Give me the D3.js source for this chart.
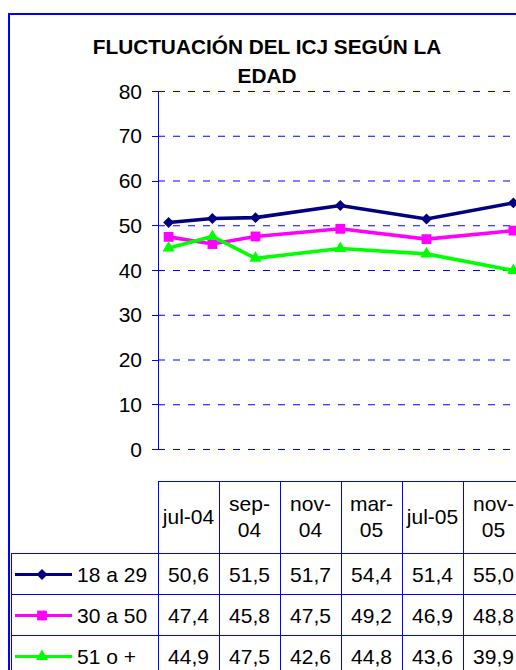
<!DOCTYPE html>
<head>
    <meta charset="utf-8">
</head>

<style type="text/css">

    body {
        margin: 0;
        background: #fff;
    }

    svg {
        display: block;
        font-family: "Liberation Sans", Arial, sans-serif;
    }

    .grid line {
        stroke: #0000ff;
        stroke-width: 1;
        stroke-dasharray: 7 8;
    }

    .axis-line, .tbl-line {
        stroke: #0000ff;
        stroke-width: 1;
        shape-rendering: crispEdges;
    }

    .frame {
        fill: none;
        stroke: #0000ff;
        stroke-width: 2;
    }

    .series-line {
        fill: none;
        stroke-width: 3.6;
    }

    .title {
        font-weight: bold;
        font-size: 20.8px;
    }

    .lbl {
        font-size: 21px;
        fill: #000;
    }

</style>

<body>
    <div class="g-chart-container"></div>
</body>

<script src="https://d3js.org/d3.v7.min.js"></script>

<script>

// values
var months = ["2004-07", "2004-09", "2004-11", "2005-03", "2005-07", "2005-11"];
var monthLabels = ["jul-04", "sep-04", "nov-04", "mar-05", "jul-05", "nov-05"];
var seriesNames = ["18 a 29", "30 a 50", "51 o +"];
var age18to29 = [50.6, 51.5, 51.7, 54.4, 51.4, 55.0];
var age30to50 = [47.4, 45.8, 47.5, 49.2, 46.9, 48.8];
var age51plus = [44.9, 47.5, 42.6, 44.8, 43.6, 39.9];
var yTicks = [0, 10, 20, 30, 40, 50, 60, 70, 80];
var titleLines = ["FLUCTUACIÓN DEL ICJ SEGÚN LA", "EDAD"];

var colors = ["#000080", "#ff00ff", "#00ff00"];
var symbols = ["diamond", "square", "triangle"];

var W = 516, H = 670;
var plotLeft = 158, plotRight = 524, plotTop = 91, plotBottom = 449;
var tableTop = 481, headerBottom = 553, rowH = 41, tableLeft = 11;

var parseMonth = d3.timeParse("%Y-%m");
var dates = months.map(parseMonth);

var allSeries = [age18to29, age30to50, age51plus].map(function(vals, i) {
    return {
        name: seriesNames[i],
        color: colors[i],
        symbol: symbols[i],
        values: vals.map(function(v, j) { return {date: dates[j], val: v}; })
    };
});

var svg = d3.select(".g-chart-container").append("svg")
    .attr("width", W)
    .attr("height", H);

svg.append("rect")
    .attr("width", W).attr("height", H)
    .attr("fill", "#fff");

// date axis, half a month of padding either side like Excel
var xscale = d3.scaleTime()
    .domain([new Date(2004, 5, 16), new Date(2005, 10, 16)])
    .range([plotLeft, plotRight]);

var yscale = d3.scaleLinear()
    .domain([0, 80])
    .range([plotBottom, plotTop]);

var colScale = d3.scaleBand()
    .domain(monthLabels)
    .range([plotLeft, plotRight]);

var fmt = d3.formatLocale({decimal: ",", thousands: ".", grouping: [3], currency: ["", "€"]}).format(".1f");

// title
svg.append("g").selectAll(".title")
    .data(titleLines)
    .enter()
    .append("text")
    .attr("class", "title")
    .attr("x", 267)
    .attr("y", function(d, i) { return 54 + i * 29; })
    .attr("text-anchor", "middle")
    .text(function(d) { return d; });

// dashed gridlines + outside ticks
var yAxis = d3.axisLeft(yscale)
    .tickValues(yTicks)
    .tickSize(-(plotRight - plotLeft))
    .tickFormat("");

var grid = svg.append("g")
    .attr("class", "grid")
    .attr("transform", "translate(" + plotLeft + ",0)")
    .call(yAxis);
grid.select(".domain").remove();

svg.append("g").selectAll(".ytick-mark")
    .data(yTicks)
    .enter()
    .append("line")
    .attr("class", "axis-line")
    .attr("x1", plotLeft - 6)
    .attr("x2", plotLeft)
    .attr("y1", function(d) { return Math.round(yscale(d)) + 0.5; })
    .attr("y2", function(d) { return Math.round(yscale(d)) + 0.5; });

svg.append("g").selectAll(".ylbl")
    .data(yTicks)
    .enter()
    .append("text")
    .attr("class", "lbl")
    .attr("x", 142)
    .attr("y", function(d) { return yscale(d) + 7.5; })
    .attr("text-anchor", "end")
    .text(function(d) { return d; });

svg.append("line")
    .attr("class", "axis-line")
    .attr("x1", plotLeft + 0.5).attr("x2", plotLeft + 0.5)
    .attr("y1", plotTop).attr("y2", plotBottom);

// lines and markers
var line = d3.line()
    .x(function(d) { return xscale(d.date); })
    .y(function(d) { return yscale(d.val); });

function markerPath(type) {
    if (type == "diamond") return d3.symbol().type(d3.symbolSquare).size(60)();
    if (type == "square") return d3.symbol().type(d3.symbolSquare).size(96)();
    return d3.symbol().type(d3.symbolTriangle).size(64)();
}

function markerTransform(type, x, y) {
    return "translate(" + x + "," + y + ")" + (type == "diamond" ? " rotate(45)" : "");
}

var seriesG = svg.append("g").selectAll(".series")
    .data(allSeries)
    .enter()
    .append("g")
    .attr("class", "series");

seriesG.append("path")
    .attr("class", "series-line")
    .attr("stroke", function(d) { return d.color; })
    .attr("d", function(d) { return line(d.values); });

seriesG.each(function(s) {
    d3.select(this).selectAll(".pt")
        .data(s.values)
        .enter()
        .append("path")
        .attr("class", "pt")
        .attr("fill", s.color)
        .attr("d", markerPath(s.symbol))
        .attr("transform", function(d) {
            return markerTransform(s.symbol, xscale(d.date), yscale(d.val));
        });
});

// data table
var tbl = svg.append("g");

tbl.append("line").attr("class", "tbl-line")
    .attr("x1", plotLeft).attr("x2", W + 20)
    .attr("y1", tableTop + 0.5).attr("y2", tableTop + 0.5);

tbl.selectAll(".hrow")
    .data(d3.range(3))
    .enter()
    .append("line")
    .attr("class", "tbl-line")
    .attr("x1", tableLeft).attr("x2", W + 20)
    .attr("y1", function(i) { return headerBottom + i * rowH + 0.5; })
    .attr("y2", function(i) { return headerBottom + i * rowH + 0.5; });

tbl.append("line").attr("class", "tbl-line")
    .attr("x1", tableLeft + 0.5).attr("x2", tableLeft + 0.5)
    .attr("y1", headerBottom).attr("y2", H + 20);

tbl.selectAll(".vcol")
    .data(monthLabels.concat(["end"]))
    .enter()
    .append("line")
    .attr("class", "tbl-line")
    .attr("x1", function(d, i) { return Math.round(plotLeft + i * colScale.bandwidth()) + 0.5; })
    .attr("x2", function(d, i) { return Math.round(plotLeft + i * colScale.bandwidth()) + 0.5; })
    .attr("y1", tableTop).attr("y2", H + 20);

// header labels, wrapped at the dash when too wide for the column
var headerMid = (tableTop + headerBottom) / 2;
tbl.selectAll(".hdr")
    .data(monthLabels)
    .enter()
    .append("text")
    .attr("class", "lbl hdr")
    .attr("text-anchor", "middle")
    .each(function(d) {
        var t = d3.select(this);
        var cx = colScale(d) + colScale.bandwidth() / 2;
        t.text(d);
        if (this.getComputedTextLength() > colScale.bandwidth() - 6) {
            var parts = d.split("-");
            t.text(null);
            t.append("tspan").attr("x", cx).attr("y", headerMid - 6).text(parts[0] + "-");
            t.append("tspan").attr("x", cx).attr("y", headerMid + 20).text(parts[1]);
        } else {
            t.attr("x", cx).attr("y", headerMid + 7);
        }
    });

var rows = tbl.selectAll(".trow")
    .data(allSeries)
    .enter()
    .append("g")
    .attr("class", "trow")
    .attr("transform", function(d, i) {
        return "translate(0," + (headerBottom + i * rowH + rowH / 2) + ")";
    });

rows.selectAll(".val")
    .data(function(d) { return d.values; })
    .enter()
    .append("text")
    .attr("class", "lbl val")
    .attr("text-anchor", "middle")
    .attr("x", function(d, j) { return colScale(monthLabels[j]) + colScale.bandwidth() / 2; })
    .attr("y", 8)
    .text(function(d) { return fmt(d.val); });

// legend keys
rows.append("line")
    .attr("x1", 15).attr("x2", 72)
    .attr("y1", 1).attr("y2", 1)
    .attr("stroke", function(d) { return d.color; })
    .attr("stroke-width", 3.2);

rows.append("path")
    .attr("fill", function(d) { return d.color; })
    .attr("d", function(d) { return markerPath(d.symbol); })
    .attr("transform", function(d) { return markerTransform(d.symbol, 42, 1); });

rows.append("text")
    .attr("class", "lbl")
    .attr("x", 77)
    .attr("y", 8)
    .text(function(d) { return d.name; });

// outer frame
svg.append("rect")
    .attr("class", "frame")
    .attr("x", 9).attr("y", 14)
    .attr("width", W + 40).attr("height", H + 40);

</script>
